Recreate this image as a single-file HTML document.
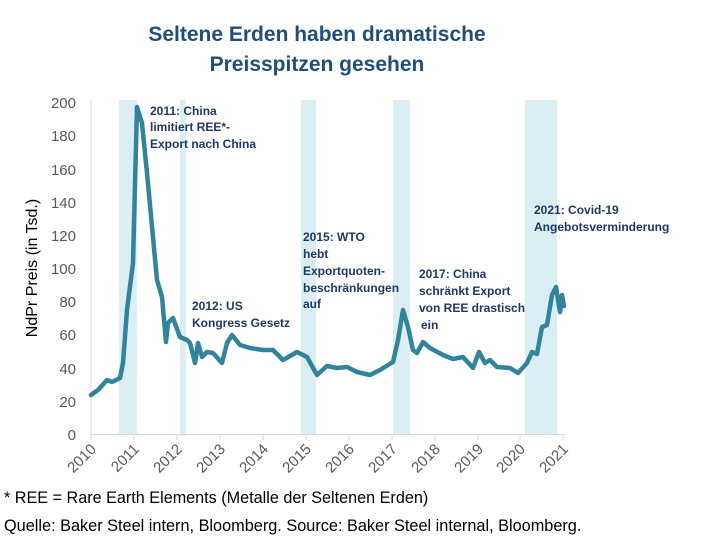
<!DOCTYPE html>
<html><head><meta charset="utf-8"><style>
body{margin:0;background:#fff;width:716px;height:542px;overflow:hidden;font-family:"Liberation Sans",sans-serif}
</style></head><body>
<svg width="716" height="542" xmlns="http://www.w3.org/2000/svg" font-family="Liberation Sans, sans-serif">
<text x="317" y="41" text-anchor="middle" font-size="21" font-weight="bold" fill="#1f4e79">Seltene Erden haben dramatische</text>
<text x="317" y="71" text-anchor="middle" font-size="21" font-weight="bold" fill="#1f4e79">Preisspitzen gesehen</text>
<g fill="#daeef3">
<rect x="119" y="100" width="18" height="334"/>
<rect x="180" y="100" width="6" height="336"/>
<rect x="301" y="100" width="15" height="334"/>
<rect x="393" y="100" width="17" height="334"/>
<rect x="525" y="100" width="32" height="334"/>
</g>
<g stroke="#d9d9d9" stroke-width="1">
<line x1="91" y1="100" x2="91" y2="435"/>
<line x1="91" y1="434.5" x2="566" y2="434.5"/>
</g>
<g stroke="#d9d9d9" stroke-width="1">
<line x1="91" y1="434" x2="91" y2="440"/><line x1="134" y1="434" x2="134" y2="440"/><line x1="177" y1="434" x2="177" y2="440"/><line x1="220" y1="434" x2="220" y2="440"/><line x1="263" y1="434" x2="263" y2="440"/><line x1="306" y1="434" x2="306" y2="440"/><line x1="349" y1="434" x2="349" y2="440"/><line x1="392" y1="434" x2="392" y2="440"/><line x1="435" y1="434" x2="435" y2="440"/><line x1="478" y1="434" x2="478" y2="440"/><line x1="520" y1="434" x2="520" y2="440"/><line x1="563" y1="434" x2="563" y2="440"/>
</g>
<g font-size="15" fill="#595959" text-anchor="end">
<text x="76" y="440">0</text><text x="76" y="407">20</text><text x="76" y="374">40</text><text x="76" y="340">60</text><text x="76" y="307">80</text><text x="76" y="274">100</text><text x="76" y="241">120</text><text x="76" y="208">140</text><text x="76" y="175">160</text><text x="76" y="141">180</text><text x="76" y="108">200</text>
</g>
<g font-size="15" fill="#595959" text-anchor="end">
<text transform="translate(97,450) rotate(-45)">2010</text>
<text transform="translate(140,450) rotate(-45)">2011</text>
<text transform="translate(183,450) rotate(-45)">2012</text>
<text transform="translate(226,450) rotate(-45)">2013</text>
<text transform="translate(269,450) rotate(-45)">2014</text>
<text transform="translate(312,450) rotate(-45)">2015</text>
<text transform="translate(355,450) rotate(-45)">2016</text>
<text transform="translate(398,450) rotate(-45)">2017</text>
<text transform="translate(441,450) rotate(-45)">2018</text>
<text transform="translate(484,450) rotate(-45)">2019</text>
<text transform="translate(526,450) rotate(-45)">2020</text>
<text transform="translate(569,450) rotate(-45)">2021</text>
</g>
<text transform="translate(37,268) rotate(-90)" text-anchor="middle" font-size="16" fill="#000">NdPr Preis (in Tsd.)</text>
<polyline fill="none" stroke="#31849b" stroke-width="4.5" stroke-linejoin="round" stroke-linecap="round" points="91,395 98,390 107,380 112,382 120,378 123,363 127,310 133,263 137,107 142,123 147,173 157,280 162,297 166,342 168,323 173,318 180,337 187,340 190,343 195,363 198,343 202,357 207,352 213,353 222,363 227,343 232,335 240,345 250,348 263,350 273,350 283,360 297,352 307,357 317,375 327,366 337,368 347,367 357,372 370,375 380,370 393,362 398,340 403,310 408,327 413,350 417,353 423,342 430,348 443,355 453,359 463,357 473,368 479,352 485,363 490,360 497,367 510,368 518,373 527,363 532,352 537,354 542,327 547,325 552,295 556,287 560,312 562,295 564,306"/>
<g font-size="12" font-weight="bold" fill="#1f3864">
<text x="150" y="115">2011: China</text><text x="150" y="131">limitiert REE*-</text><text x="150" y="148">Export nach China</text>
<text x="192" y="310">2012: US</text><text x="192" y="327">Kongress Gesetz</text>
<text x="303" y="241">2015: WTO</text><text x="303" y="258">hebt</text><text x="303" y="275">Exportquoten-</text><text x="303" y="292">beschränkungen</text><text x="303" y="308">auf</text>
<text x="419" y="278">2017: China</text><text x="419" y="295">schränkt Export</text><text x="419" y="312">von REE drastisch</text><text x="421" y="329">ein</text>
<text x="534" y="214">2021: Covid-19</text><text x="534" y="231">Angebotsverminderung</text>
</g>
<text x="4" y="503" font-size="16.2" fill="#000">* REE = Rare Earth Elements (Metalle der Seltenen Erden)</text>
<text x="4" y="531" font-size="16.3" fill="#000">Quelle: Baker Steel intern, Bloomberg. Source: Baker Steel internal, Bloomberg.</text>
</svg>
</body></html>
